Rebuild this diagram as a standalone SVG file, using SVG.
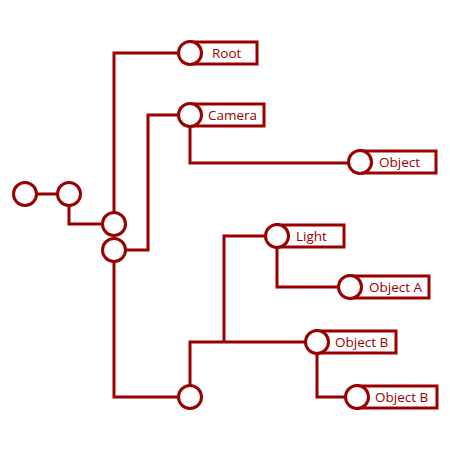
<svg xmlns="http://www.w3.org/2000/svg" width="450" height="450" viewBox="0 0 450 450">
<style>
.c{fill:none;stroke:#990000;stroke-width:3}
.n circle{fill:#fff;stroke:#990000;stroke-width:3}
.n rect{fill:#fff;stroke:#990000;stroke-width:3}
.n text{font-family:"Open Sans","Noto Sans",sans-serif;font-size:13.5px;font-weight:500;fill:#990000;dominant-baseline:central}
</style>
<rect width="450" height="450" fill="#fff"/>
<g id="connectors" class="c">
<path d="M25,194H69"/>
<path d="M69,194V224H114"/>
<path d="M114,224V53H190"/>
<path d="M114,250H148V115H190"/>
<path d="M190,115V163H360"/>
<path d="M114,250V397H190"/>
<path d="M190,397V342H317"/>
<path d="M224,342V236H277"/>
<path d="M277,236V287H350"/>
<path d="M317,342V397H357"/>
</g>
<g id="n1" class="n"><circle cx="25" cy="194" r="11.5"/></g>
<g id="n2" class="n"><circle cx="69" cy="194" r="11.5"/></g>
<g id="n3" class="n"><circle cx="114" cy="224" r="11.5"/></g>
<g id="n4" class="n"><circle cx="114" cy="250" r="11.5"/></g>
<g id="n5" class="n"><circle cx="190" cy="397" r="11.5"/></g>
<g id="root" class="n"><rect x="190" y="42" width="67" height="22"/><circle cx="190" cy="53" r="11.5"/><text x="212" y="53">Root</text></g>
<g id="camera" class="n"><rect x="190" y="104" width="74" height="22"/><circle cx="190" cy="115" r="11.5"/><text x="208" y="115">Camera</text></g>
<g id="object" class="n"><rect x="360" y="151" width="76" height="22"/><circle cx="360" cy="162" r="11.5"/><text x="379" y="162">Object</text></g>
<g id="light" class="n"><rect x="277" y="225" width="67" height="22"/><circle cx="277" cy="236" r="11.5"/><text x="296" y="236">Light</text></g>
<g id="objectA" class="n"><rect x="350" y="276" width="79" height="22"/><circle cx="350" cy="287" r="11.5"/><text x="369" y="287">Object A</text></g>
<g id="objectB1" class="n"><rect x="317" y="331" width="79" height="22"/><circle cx="317" cy="342" r="11.5"/><text x="335" y="342">Object B</text></g>
<g id="objectB2" class="n"><rect x="357" y="386" width="80" height="22"/><circle cx="357" cy="397" r="11.5"/><text x="375" y="397">Object B</text></g>
</svg>
